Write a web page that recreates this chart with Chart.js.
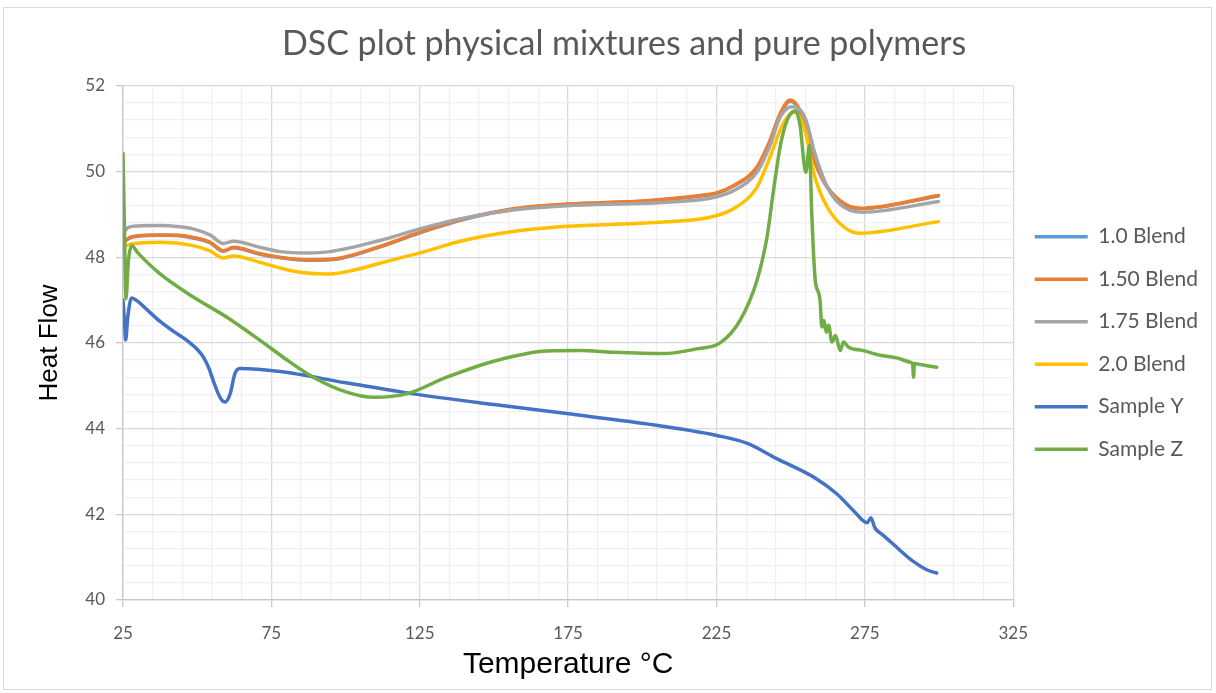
<!DOCTYPE html>
<html>
<head>
<meta charset="utf-8">
<title>DSC plot</title>
<script src="https://cdn.jsdelivr.net/npm/chart.js@4.4.1/dist/chart.umd.min.js"></script>
<style>
  body { margin: 0; background: #fff; }
  #wrap { width: 1216px; height: 693px; position: relative; }
</style>
</head>
<body>
<div id="wrap"><canvas id="dscChart"></canvas></div>
<script>
// temperatures (°C) and heat flow readings
const blend150Temp = [25.3, 27, 30, 37.5, 44, 48.6, 54.3, 58.8, 62.2, 71.2, 77.9, 86.9, 94.8, 111.6, 125, 139.7, 156.5, 174.5, 201.5, 219.5, 225, 230.7, 238.6, 243, 246.4, 249.8, 253.1, 256.5, 261, 266.6, 273.4, 299.8];
const blend150Flow = [48.35, 48.45, 48.5, 48.52, 48.51, 48.46, 48.35, 48.15, 48.23, 48.08, 48.0, 47.94, 47.95, 48.25, 48.58, 48.89, 49.13, 49.24, 49.32, 49.44, 49.5, 49.67, 50.1, 50.72, 51.34, 51.67, 51.42, 50.56, 49.79, 49.32, 49.14, 49.44];

// 1.0 Blend sits right underneath the 1.50 trace
const blend100Temp = blend150Temp;
const blend100Flow = [48.34, 48.44, 48.49, 48.51, 48.5, 48.45, 48.34, 48.14, 48.22, 48.07, 47.99, 47.93, 47.94, 48.24, 48.57, 48.88, 49.12, 49.23, 49.31, 49.43, 49.49, 49.66, 50.09, 50.7, 51.32, 51.64, 51.4, 50.55, 49.78, 49.31, 49.13, 49.43];

const blend175Temp = [25.3, 27, 30, 37.5, 44, 48.6, 54.3, 58.8, 62.2, 71.2, 77.9, 86.9, 94.8, 111.6, 125, 139.7, 156.5, 174.5, 201.5, 219.5, 225, 230.7, 238.6, 243, 246.4, 250.4, 254.8, 258.2, 262.4, 266.6, 274, 299.8];
const blend175Flow = [48.6, 48.7, 48.73, 48.74, 48.71, 48.66, 48.52, 48.32, 48.37, 48.23, 48.13, 48.1, 48.13, 48.39, 48.66, 48.91, 49.1, 49.2, 49.26, 49.34, 49.41, 49.55, 49.98, 50.6, 51.26, 51.51, 51.26, 50.41, 49.63, 49.24, 49.05, 49.3];

const blend200Temp = [25.3, 28, 37.5, 48.6, 54.3, 58.8, 62.2, 71.2, 77.9, 81.3, 86.9, 94.8, 103, 111.6, 125, 139.7, 156.5, 174.5, 201.5, 219.5, 225, 230.7, 238.6, 243, 247.4, 251.3, 254.8, 258.2, 262.4, 268, 273, 299.8];
const blend200Flow = [48.25, 48.31, 48.35, 48.27, 48.15, 47.98, 48.03, 47.88, 47.75, 47.69, 47.63, 47.61, 47.7, 47.86, 48.1, 48.39, 48.6, 48.72, 48.8, 48.89, 48.97, 49.13, 49.63, 50.33, 51.11, 51.38, 50.95, 49.86, 49.16, 48.7, 48.56, 48.83];

const sampleYTemp = [25, 25.5, 25.9, 26.6, 27.9, 30, 33, 37.5, 42, 46.5, 50, 52.1, 54, 55.4, 57.7, 59.4, 61.1, 62.7, 64.4, 77.9, 100, 122.8, 150, 174.5, 201.5, 225.1, 235.2, 245.3, 257.7, 265.5, 271.1, 275.8, 277, 278.4, 281, 284.6, 291.3, 296, 299.2];
const sampleYFlow = [47.0, 46.5, 46.07, 46.6, 47.05, 46.97, 46.78, 46.5, 46.27, 46.06, 45.85, 45.67, 45.4, 45.12, 44.73, 44.62, 44.81, 45.28, 45.4, 45.33, 45.07, 44.81, 44.56, 44.35, 44.11, 43.84, 43.66, 43.3, 42.87, 42.48, 42.09, 41.8, 41.92, 41.68, 41.52, 41.3, 40.9, 40.7, 40.63];

const sampleZTemp = [25, 25.4, 26, 26.8, 27.9, 30, 37.5, 48.7, 60, 71.2, 81.3, 89.1, 100.4, 109.4, 120.6, 134.1, 150.9, 167.8, 179, 190.2, 207.1, 218.3, 226.2, 232.9, 238.6, 242, 244.2, 246.4, 248.7, 251.5, 253.1, 255.1, 256.3, 257.1, 257.7, 258.3, 259.9, 260.5, 261.2, 262, 262.8, 263.9, 265.1, 266.7, 267.8, 269.5, 274.5, 280.1, 285.8, 290.3, 291.1, 291.4, 291.7, 292.5, 299.2];
const sampleZFlow = [50.42, 49.0, 47.03, 47.9, 48.27, 48.1, 47.61, 47.07, 46.6, 46.06, 45.55, 45.2, 44.85, 44.73, 44.81, 45.2, 45.59, 45.81, 45.82, 45.78, 45.75, 45.86, 46.0, 46.52, 47.45, 48.46, 49.55, 50.56, 51.18, 51.42, 51.11, 49.98, 50.6, 49.01, 48.08, 47.45, 46.99, 46.37, 46.52, 46.25, 46.41, 46.02, 46.17, 45.82, 46.02, 45.9, 45.82, 45.71, 45.65, 45.55, 45.5, 45.2, 45.52, 45.51, 45.43];

// axis ticks: major every 50 °C / 2 units, minor lines in between
const xTicks = [25, 35, 45, 55, 65, 75, 85, 95, 105, 115, 125, 135, 145, 155, 165, 175, 185, 195, 205, 215, 225, 235, 245, 255, 265, 275, 285, 295, 305, 315, 325];
const yTicks = [40, 40.4, 40.8, 41.2, 41.6, 42, 42.4, 42.8, 43.2, 43.6, 44, 44.4, 44.8, 45.2, 45.6, 46, 46.4, 46.8, 47.2, 47.6, 48, 48.4, 48.8, 49.2, 49.6, 50, 50.4, 50.8, 51.2, 51.6, 52];

function pts(xs, ys) {
  return xs.map((t, i) => ({ x: t, y: ys[i] }));
}
function series(label, xs, ys, color, order) {
  return {
    label: label,
    data: pts(xs, ys),
    borderColor: color,
    backgroundColor: color,
    pointBorderColor: color,
    pointBackgroundColor: color,
    pointBorderWidth: 3.5,
    order: order
  };
}
const isMajorX = v => (v - 25) % 50 === 0;
const isMajorY = v => Math.abs(v / 2 - Math.round(v / 2)) < 1e-6;

const chartBorder = {
  id: 'chartBorder',
  afterLayout(chart) {
    // excel puts the title a bit right of the canvas centre
    if (chart.titleBlock) {
      chart.titleBlock.left += 20;
      chart.titleBlock.right += 20;
    }
  },
  beforeDraw(chart) {
    const ctx = chart.ctx;
    ctx.save();
    ctx.fillStyle = '#fff';
    ctx.fillRect(0, 0, chart.width, chart.height);
    ctx.strokeStyle = '#d9d9d9';
    ctx.lineWidth = 1;
    ctx.strokeRect(3.5, 7.5, 1208, 682);
    ctx.restore();
  }
};

Chart.defaults.font.family = 'Lato';

new Chart(document.getElementById('dscChart'), {
  type: 'line',
  data: {
    datasets: [
      series('1.0 Blend', blend100Temp, blend100Flow, '#5B9BD5', 6),
      series('1.50 Blend', blend150Temp, blend150Flow, '#ED7D31', 5),
      series('1.75 Blend', blend175Temp, blend175Flow, '#A5A5A5', 4),
      series('2.0 Blend', blend200Temp, blend200Flow, '#FFC000', 3),
      series('Sample Y', sampleYTemp, sampleYFlow, '#4472C4', 2),
      series('Sample Z', sampleZTemp, sampleZFlow, '#70AD47', 1)
    ]
  },
  options: {
    responsive: true,
    maintainAspectRatio: false,
    animation: false,
    layout: { padding: { left: 0, right: 8, top: 0, bottom: 0 } },
    elements: {
      line: { borderWidth: 3.5, cubicInterpolationMode: 'monotone', borderCapStyle: 'round', borderJoinStyle: 'round' },
      point: { radius: 0, hoverRadius: 0 }
    },
    plugins: {
      title: {
        display: true,
        text: 'DSC plot physical mixtures and pure polymers',
        color: '#595959',
        font: { family: 'Lato', size: 34, weight: 'normal' },
        padding: { top: 24, bottom: 21 }
      },
      legend: {
        position: 'right',
        fullSize: false,
        labels: {
          color: '#595959',
          font: { family: 'Lato', size: 21 },
          usePointStyle: true,
          pointStyle: 'line',
          pointStyleWidth: 53,
          padding: 21.5,
          sort: (a, b) => a.datasetIndex - b.datasetIndex
        }
      },
      tooltip: { enabled: false }
    },
    scales: {
      x: {
        type: 'linear',
        min: 25,
        max: 325,
        afterBuildTicks: s => { s.ticks = xTicks.map(v => ({ value: v })); },
        afterFit: s => { s.height = 93; },
        ticks: {
          autoSkip: false,
          maxRotation: 0,
          padding: 16,
          color: '#595959',
          font: { size: 17 },
          callback: v => isMajorX(v) ? v : ''
        },
        grid: {
          color: c => (c.tick && isMajorX(c.tick.value)) ? '#d9d9d9' : '#f0f0f0',
          lineWidth: 1.3,
          tickLength: 7,
          tickColor: c => (c.tick && isMajorX(c.tick.value)) ? '#c8c8c8' : 'rgba(0,0,0,0)'
        },
        border: { color: '#c8c8c8', width: 1.3 },
        title: {
          display: true,
          text: 'Temperature °C',
          color: '#000',
          font: { family: 'Liberation Sans', size: 30 },
          padding: { top: 0, bottom: 10 }
        }
      },
      y: {
        min: 40,
        max: 52,
        afterBuildTicks: s => { s.ticks = yTicks.map(v => ({ value: v })); },
        afterFit: s => { s.width = 123; },
        ticks: {
          autoSkip: false,
          padding: 11,
          color: '#595959',
          font: { size: 17 },
          callback: v => isMajorY(v) ? Math.round(v) : ''
        },
        grid: {
          color: c => (c.tick && isMajorY(c.tick.value)) ? '#d9d9d9' : '#f0f0f0',
          lineWidth: 1.3,
          tickLength: 7,
          tickColor: c => (c.tick && isMajorY(c.tick.value)) ? '#c8c8c8' : 'rgba(0,0,0,0)'
        },
        border: { color: '#c8c8c8', width: 1.3 },
        title: {
          display: true,
          text: 'Heat Flow',
          color: '#000',
          font: { family: 'Liberation Sans', size: 26 },
          padding: { top: 34, bottom: 0 }
        }
      }
    }
  },
  plugins: [chartBorder]
});
</script>
</body>
</html>
